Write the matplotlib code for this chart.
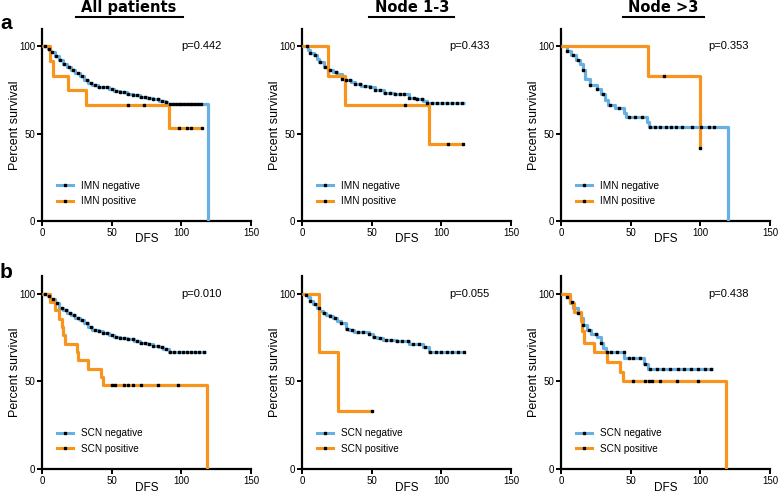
import matplotlib.pyplot as plt
from matplotlib.lines import Line2D
import numpy as np

plt.rcParams['font.family'] = ['Liberation Sans', 'DejaVu Sans']

BLUE = '#67B1E2'
ORANGE = '#F7941E'

#%% PODATKI - odčitano s slike (čas DFS, preživetje v %)

# a) IMN, vsi bolniki
a1_neg_t = [0, 4, 6, 9, 12, 15, 18, 21, 24, 27, 30, 33, 36, 40, 44, 48, 52, 56, 61, 65, 70, 75, 80, 84, 88, 90, 119]
a1_neg_s = [100, 98.5, 97, 94.5, 92, 90, 88, 86.5, 85, 83, 80.5, 79, 78, 77, 76.5, 75.5, 74.5, 73.8, 73, 72.3, 71.3, 70.5, 69.8, 69, 68.3, 66.9, 0]
a1_neg_end = 119
a1_neg_c = [2.5, 5, 7.5, 10, 13, 16, 19.5, 22.5, 26, 28.5, 32, 35, 38, 41, 44, 47, 50, 53, 56, 59, 62, 65, 68, 71, 74, 77,
            80, 83, 86, 89, 92, 94, 96, 98, 100, 102, 104, 106, 108, 110, 112, 114]
a1_pos_t = [0, 5.5, 8, 19, 31.5, 91.5]
a1_pos_s = [100, 91.7, 83.3, 75, 66.7, 53.3]
a1_pos_end = 115
a1_pos_c = [62, 73, 98, 104, 107, 115]

# a) IMN, bezgavke 1-3
a2_neg_t = [0, 4, 6, 8.5, 10.5, 12.5, 15.5, 19, 22, 25, 28.5, 31, 35, 38, 42, 49, 52.5, 58.5, 66, 70.5, 76.5, 82, 87, 89.5]
a2_neg_s = [100, 98, 96.5, 95, 93, 91, 88.5, 86.5, 85.5, 84.5, 81.5, 80.5, 79.5, 78.5, 77.5, 76.5, 75, 73.5, 73, 72.5, 70.5, 70, 69, 67.5]
a2_neg_end = 117
a2_neg_c = [3.6, 6, 9.6, 13, 16.7, 20.3, 24.6, 28.7, 31.8, 34.7, 38.3, 41.4, 45.5, 49, 52.6, 56.2, 59.8, 63.4, 67, 70.6,
            73, 76.6, 80.1, 82.5, 86.1, 89.7, 93.3, 96.9, 100.5, 104, 107.7, 111.2, 114.8]
a2_pos_t = [0, 18.5, 31, 91.5]
a2_pos_s = [100, 83.3, 66.7, 44.4]
a2_pos_end = 115.5
a2_pos_c = [74, 104.5, 115.5]

# a) IMN, bezgavke >3
a3_neg_t = [0, 4, 7.5, 11, 13.5, 15.5, 17.5, 21, 25.5, 29, 31.5, 34, 39, 45, 46.5, 62, 63.5, 120]
a3_neg_s = [100, 97.5, 95, 92.5, 90, 86.5, 81.5, 78, 75.5, 73, 69.5, 66.5, 64.5, 62, 59.5, 56.5, 54.1, 0]
a3_neg_end = 120
a3_neg_c = [4, 8.7, 12.5, 16, 21, 25.7, 30.5, 35.3, 41.3, 48.5, 53.4, 58, 64.2, 67.8, 71.4, 75, 78.6, 82.2, 87, 94.2,
            100.2, 106.3, 109.9]
a3_pos_t = [0, 62.5, 99.5]
a3_pos_s = [100, 83.3, 41.7]
a3_pos_end = 99.5
a3_pos_c = [74, 99.5]

# b) SCN, vsi bolniki
b1_neg_t = [0, 4, 6, 9, 12, 15, 18, 21, 24, 27, 30, 33, 36, 40, 44, 48, 52, 56, 61, 66, 70, 75, 80, 84, 87, 91]
b1_neg_s = [100, 98.5, 97, 94.5, 92, 90.5, 89, 87.5, 86, 85, 83, 81, 79.5, 78.5, 77.5, 76.5, 75.5, 74.5, 74, 73, 72, 71, 70.2, 69.5, 68.5, 66.8]
b1_neg_end = 118
b1_neg_c = [2.5, 5, 8, 11, 14, 17, 20, 23, 26, 29, 32, 35, 38, 41, 44, 47, 50, 53, 56, 59, 62, 65, 68, 71, 74, 77, 80,
            83, 86, 89, 92, 95, 98, 101, 104, 107, 110, 113, 116]
b1_pos_t = [0, 5.5, 9.5, 12, 14, 15, 16.5, 25, 25.5, 33, 42.5, 43.5, 118.5]
b1_pos_s = [100, 95.2, 90.5, 85.7, 81.0, 76.2, 71.4, 66.7, 61.9, 57.1, 52.4, 47.6, 0]
b1_pos_end = 118.5
b1_pos_c = [50, 52.5, 59, 62, 65, 71, 83, 97.5]

# b) SCN, bezgavke 1-3
b2_neg_t = [0, 3, 4.5, 6, 8, 10.5, 12.5, 15, 17.5, 20, 22, 25, 28, 31.5, 34, 37.5, 48, 51, 54, 58, 67.5, 77, 86.5, 91.5]
b2_neg_s = [100, 99, 98, 96, 94, 92, 90, 89, 88, 87, 86, 84.5, 83, 80, 79, 78, 77, 75.5, 74.5, 73.5, 73, 71, 69.5, 66.5]
b2_neg_end = 116.5
b2_neg_c = [3, 6, 9, 12, 16, 20, 24, 28, 32, 36, 40, 44, 48, 52, 56, 60, 64, 68, 72, 76, 80, 84, 88, 92, 96, 100, 104,
            108, 112, 116]
b2_pos_t = [0, 12.5, 25.5]
b2_pos_s = [100, 66.7, 33.3]
b2_pos_end = 50.5
b2_pos_c = [50.5]

# b) SCN, bezgavke >3
b3_neg_t = [0, 4, 6.5, 8.5, 12, 14.5, 16, 19, 21.5, 26, 28.5, 30.5, 32.5, 45.5, 59.5, 62.5]
b3_neg_s = [100, 98, 95, 92, 89, 86, 82, 79, 77, 75, 72, 69, 66.5, 63, 60, 57]
b3_neg_end = 109
b3_neg_c = [4, 8, 12, 16, 20, 25, 29, 33, 36, 40, 45, 49, 52, 57, 60, 64, 69, 73, 78, 84, 88, 93, 98, 103, 108]
b3_pos_t = [0, 6.7, 9.6, 14, 15, 16.5, 24, 33, 42, 44.5, 118.7]
b3_pos_s = [100, 94.7, 89.5, 84.2, 78.9, 72, 66.5, 61, 55.5, 50, 0]
b3_pos_end = 118.7
b3_pos_c = [52, 60, 63, 65, 71, 83, 98]

titles = ['All patients', 'Node 1-3', 'Node >3']
pvals = [['p=0.442', 'p=0.433', 'p=0.353'],
         ['p=0.010', 'p=0.055', 'p=0.438']]
legend_a = ['IMN negative', 'IMN positive']
legend_b = ['SCN negative', 'SCN positive']

#%% FUNKCIJE

def km(ax, t, s, end, cens, color):
    t = list(t)
    s = list(s)
    if end > t[-1]:
        t = t + [end]
        s = s + [s[-1]]
    ax.step(t, s, where='post', color=color, lw=2.3, solid_capstyle='butt', zorder=3)
    # cenzurirani primeri - crne pike na krivulji
    tt = np.array(t)
    ss = np.array(s)
    i = np.searchsorted(tt, np.array(cens), side='right') - 1
    i = np.clip(i, 0, len(ss) - 1)
    ax.plot(cens, ss[i], ls='none', marker='s', ms=1.6, color='k', zorder=4)

#%% IZRIS

W, H = 778, 493
fig = plt.figure(figsize=(W / 100, H / 100), dpi=100, facecolor='w')

lefts = [42, 302, 561]
rows = [(29, 221), (276, 469)]

curves = [
    [(a1_neg_t, a1_neg_s, a1_neg_end, a1_neg_c, a1_pos_t, a1_pos_s, a1_pos_end, a1_pos_c),
     (a2_neg_t, a2_neg_s, a2_neg_end, a2_neg_c, a2_pos_t, a2_pos_s, a2_pos_end, a2_pos_c),
     (a3_neg_t, a3_neg_s, a3_neg_end, a3_neg_c, a3_pos_t, a3_pos_s, a3_pos_end, a3_pos_c)],
    [(b1_neg_t, b1_neg_s, b1_neg_end, b1_neg_c, b1_pos_t, b1_pos_s, b1_pos_end, b1_pos_c),
     (b2_neg_t, b2_neg_s, b2_neg_end, b2_neg_c, b2_pos_t, b2_pos_s, b2_pos_end, b2_pos_c),
     (b3_neg_t, b3_neg_s, b3_neg_end, b3_neg_c, b3_pos_t, b3_pos_s, b3_pos_end, b3_pos_c)],
]
p_x = [100, 106, 106]

for r, (top, bot) in enumerate(rows):
    labels = legend_a if r == 0 else legend_b
    for c, left in enumerate(lefts):
        ax = fig.add_axes([left / W, 1 - bot / H, 209 / W, (bot - top) / H])
        nt, ns, ne, nc, pt, ps, pe, pc = curves[r][c]
        km(ax, nt, ns, ne, nc, BLUE)
        km(ax, pt, ps, pe, pc, ORANGE)

        ax.set_xlim(0, 150)
        ax.set_ylim(0, 110)
        ax.set_xticks([0, 50, 100, 150])
        ax.set_yticks([0, 50, 100])
        for sp in ['top', 'right']:
            ax.spines[sp].set_visible(False)
        for sp in ['left', 'bottom']:
            ax.spines[sp].set_linewidth(1.6)
        ax.tick_params(direction='out', length=3.5, width=1.4, labelsize=7, pad=1.5)

        ax.set_xlabel('DFS', fontsize=8.5)
        ax.xaxis.set_label_coords(0.5, -0.065)
        ax.set_ylabel('Percent survival', fontsize=9)
        ax.yaxis.set_label_coords(-0.10, 0.5)

        ax.text(p_x[c], 100, pvals[r][c], fontsize=8, va='center')

        handles = [Line2D([], [], color=BLUE, lw=2.2, marker='s', ms=1.6, mfc='k', mec='k'),
                   Line2D([], [], color=ORANGE, lw=2.2, marker='s', ms=1.6, mfc='k', mec='k')]
        ax.legend(handles, labels, loc='lower left', bbox_to_anchor=(0.072, 0.078), frameon=False,
                  fontsize=7.2, handlelength=1.6, handletextpad=0.8, labelspacing=0.55,
                  borderpad=0, borderaxespad=0)

# naslovi stolpcev s podcrtajem
title_x = [129, 412, 663]
uline = [(76, 183), (369, 454), (623, 704)]
for tx, (u0, u1), t in zip(title_x, uline, titles):
    fig.text(tx / W, 1 - 12 / H, t, ha='center', va='baseline', fontsize=10.5,
             fontweight='bold', family='DejaVu Sans')
    fig.add_artist(Line2D([u0 / W, u1 / W], [1 - 16.5 / H, 1 - 16.5 / H], color='k', lw=1.5))

fig.text(0.0, 1 - 29 / H, 'a', fontsize=15, fontweight='bold', va='baseline')
fig.text(0.0, 1 - 278 / H, 'b', fontsize=15, fontweight='bold', va='baseline')

plt.savefig('out.png', dpi=100)
